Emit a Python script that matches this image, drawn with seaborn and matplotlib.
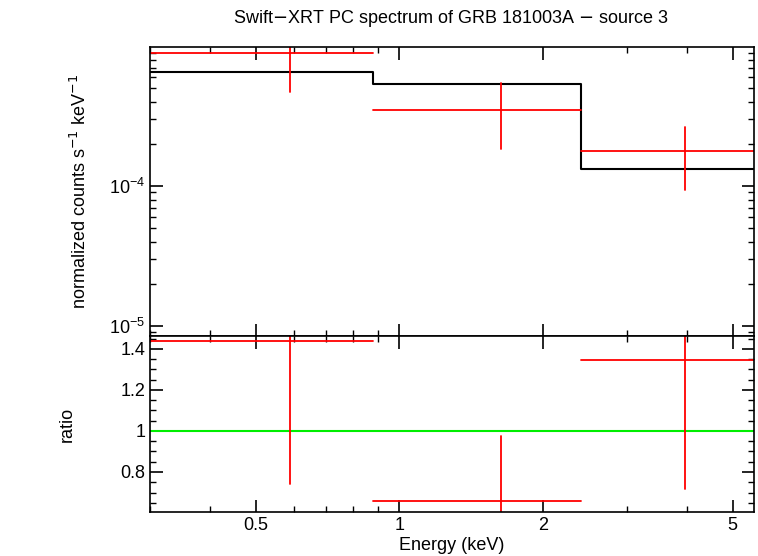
import matplotlib
matplotlib.use("Agg")
import matplotlib.pyplot as plt
import matplotlib.ticker as mt
import seaborn as sns
import pandas as pd

bin_lo = [0.30, 0.88, 2.40]
bin_hi = [0.88, 2.40, 5.54]
bin_c = [0.589, 1.63, 3.98]
flux = [9.0e-4, 3.53e-4, 1.77e-4]
flux_up = [1.2e-3, 5.46e-4, 2.65e-4]
flux_dn = [4.7e-4, 1.83e-4, 0.94e-4]
model = [6.56e-4, 5.37e-4, 1.33e-4]
ratio = [1.439, 0.659, 1.346]
ratio_up = [1.6, 0.976, 1.47]
ratio_dn = [0.741, 0.45, 0.717]

sns.set_style("ticks")
plt.rcParams["font.family"] = "Liberation Sans"
plt.rcParams["text.color"] = "black"
plt.rcParams["axes.labelcolor"] = "black"
plt.rcParams["xtick.color"] = "black"
plt.rcParams["ytick.color"] = "black"
plt.rcParams["axes.edgecolor"] = "black"
fig = plt.figure(figsize=(7.58, 5.56), dpi=100)
ax1 = fig.add_axes([150/758, 1-336/556, 604/758, 289/556])
ax2 = fig.add_axes([150/758, 1-512/556, 604/758, 176/556], sharex=ax1)

df = pd.DataFrame({"x": bin_lo + [bin_hi[-1]], "m": model + [model[-1]]})
sns.lineplot(data=df, x="x", y="m", drawstyle="steps-post", color="black", lw=1.5, ax=ax1)
for lo, hi, c, f, u, d in zip(bin_lo, bin_hi, bin_c, flux, flux_up, flux_dn):
    ax1.plot([lo, hi], [f, f], color="red", lw=1.3)
    ax1.plot([c, c], [d, u], color="red", lw=1.3)
ax2.axhline(1, color="#00ee00", lw=1.5)
for lo, hi, c, r, u, d in zip(bin_lo, bin_hi, bin_c, ratio, ratio_up, ratio_dn):
    ax2.plot([lo, hi], [r, r], color="red", lw=1.3)
    ax2.plot([c, c], [d, u], color="red", lw=1.3)

ax1.set_xscale("log"); ax1.set_yscale("log")
ax1.set_xlim(0.3, 5.54)
ax1.set_ylim(8.45e-6, 9.9e-4)
ax2.set_ylim(0.605, 1.463)
ax2.set_xticks([0.5, 1, 2, 5]); ax2.set_xticklabels(["0.5", "1", "2", "5"])
ax2.xaxis.set_minor_formatter(mt.NullFormatter())
ax1.tick_params(labelbottom=False)
ax2.set_yticks([0.8, 1, 1.2, 1.4]); ax2.set_yticklabels(["0.8", "1", "1.2", "1.4"])
ax2.yaxis.set_minor_locator(mt.MultipleLocator(0.05))
for ax in (ax1, ax2):
    ax.tick_params(which="both", direction="in", top=True, right=True, labelsize=13)
    ax.tick_params(which="major", length=9, width=1.2)
    ax.tick_params(which="minor", length=4.5, width=1)
    for s in ax.spines.values():
        s.set_linewidth(1.2)
    ax.set_xlabel(""); ax.set_ylabel("")
ax1.set_ylabel("normalized counts s$^{-1}$ keV$^{-1}$", fontsize=13, labelpad=14)
ax2.set_ylabel("ratio", fontsize=13, labelpad=32)
ax2.set_xlabel("Energy (keV)", fontsize=13, labelpad=2)
fig.suptitle("Swift$-$XRT PC spectrum of GRB 181003A $-$ source 3", fontsize=13, y=0.985, x=0.595)
fig.savefig("out.png", dpi=100)
